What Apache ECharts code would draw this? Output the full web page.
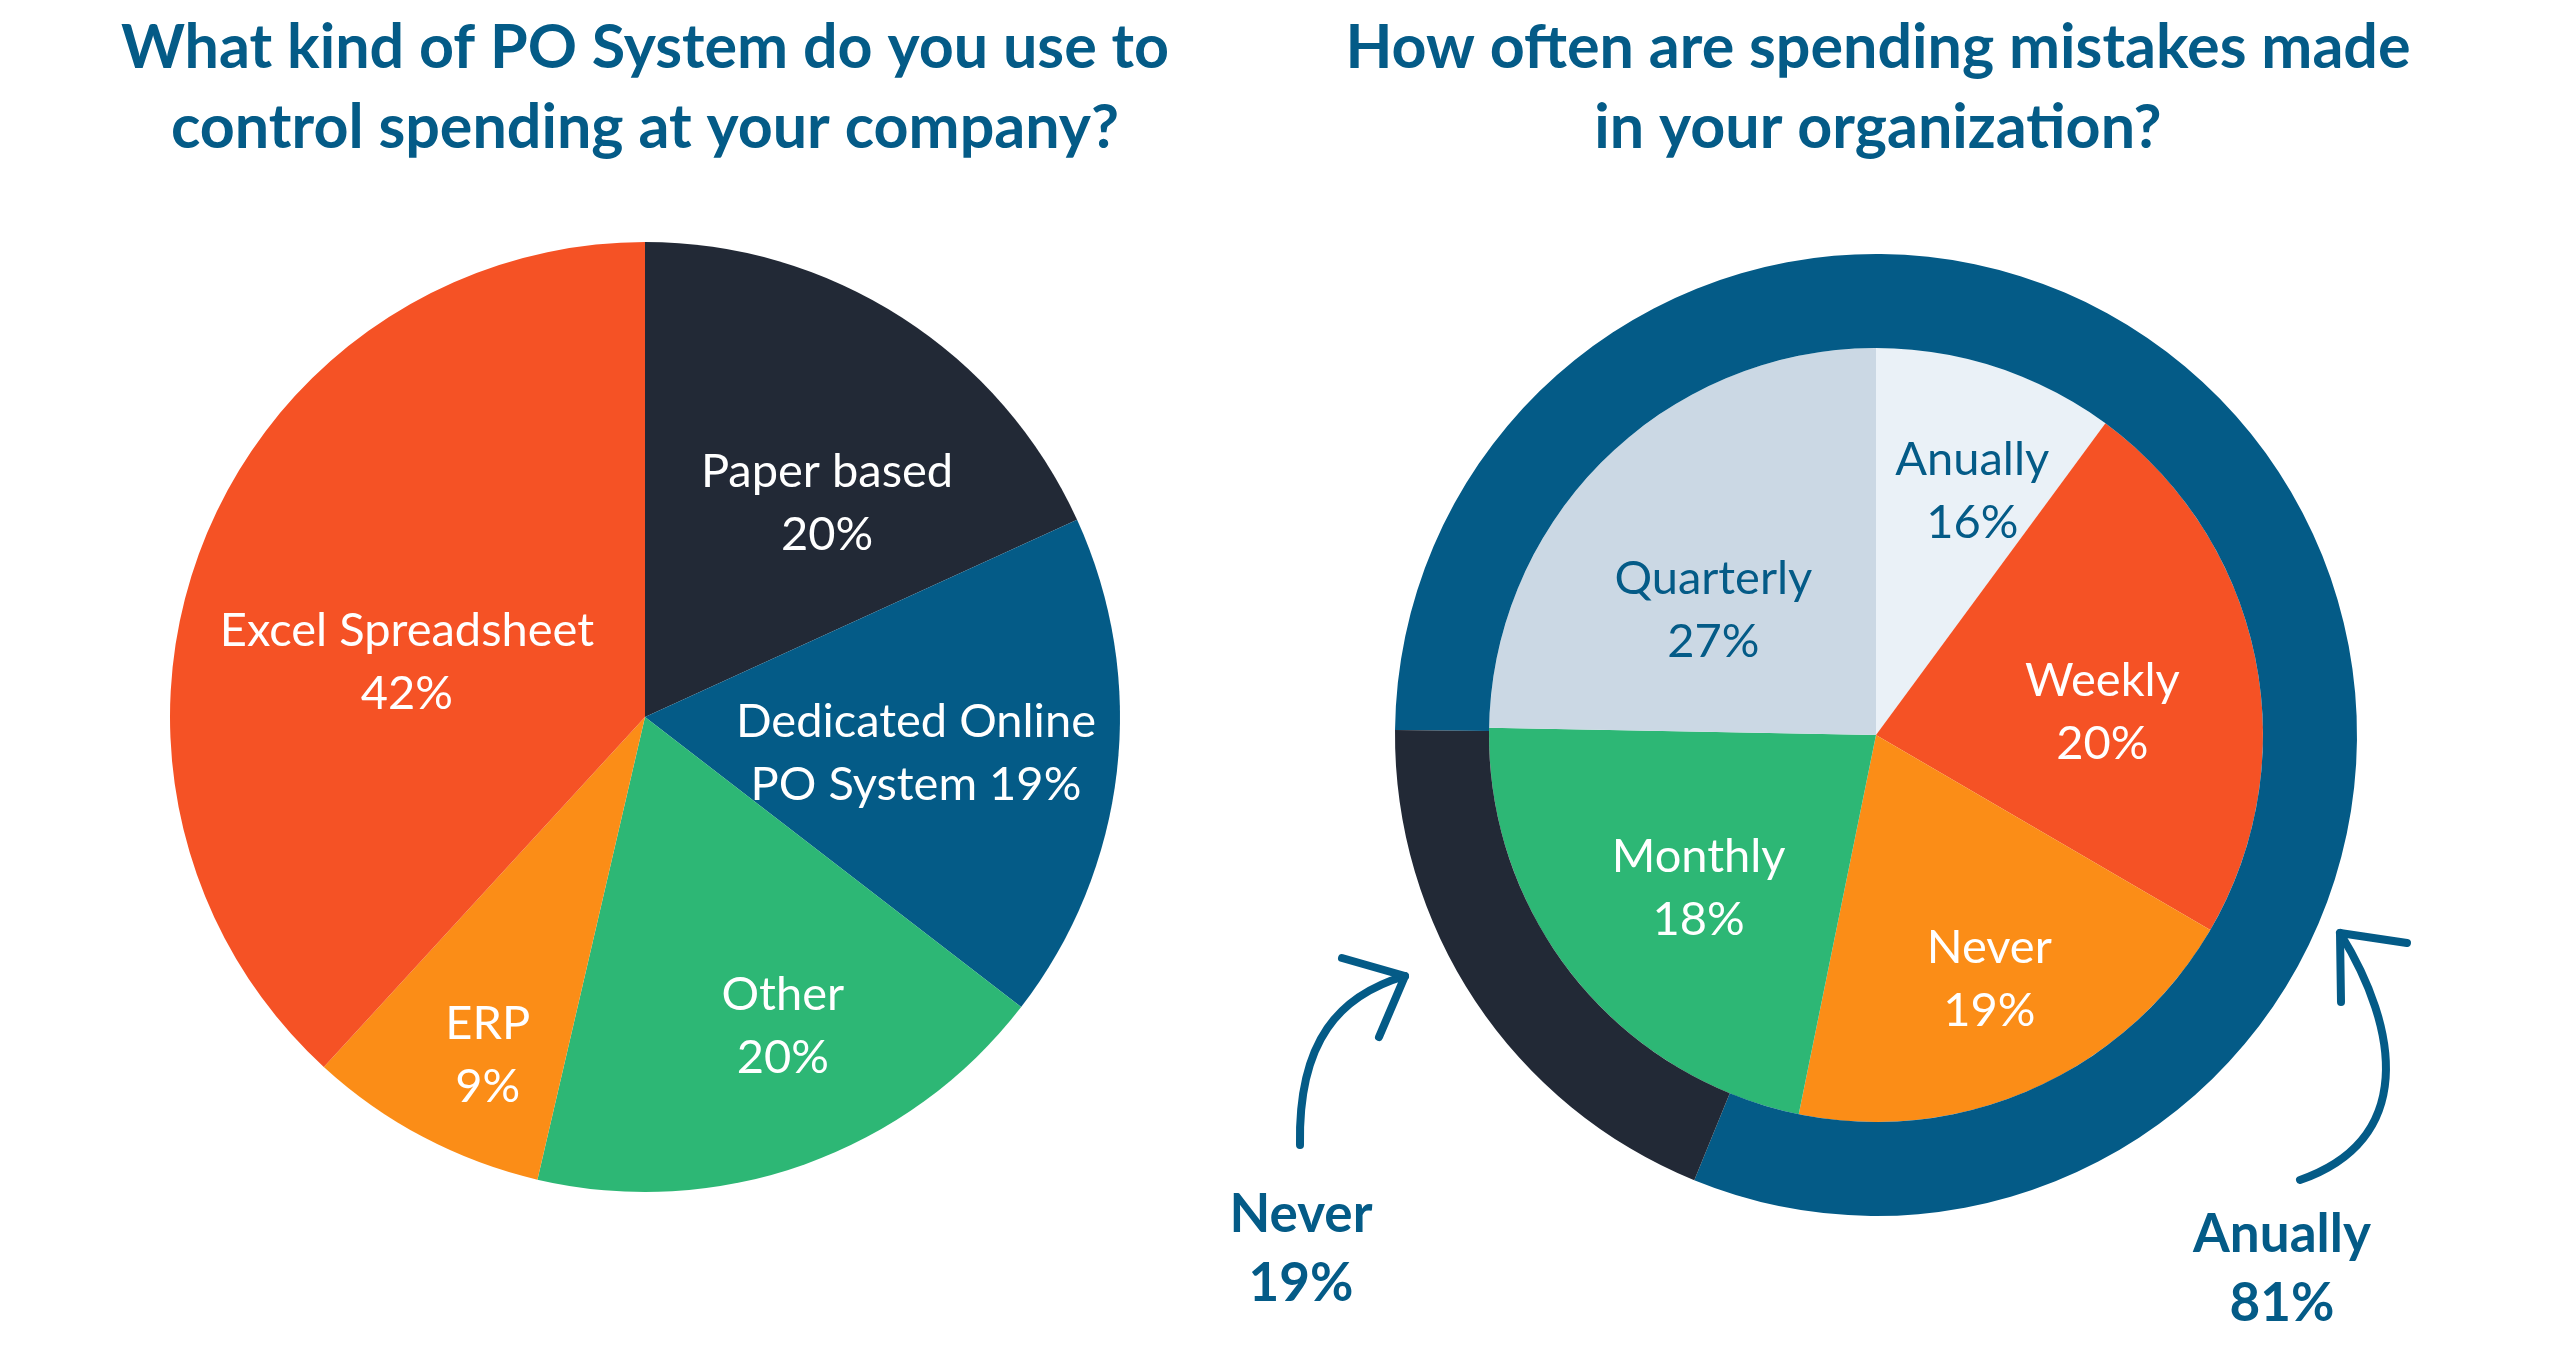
<!DOCTYPE html>
<html>
<head>
<meta charset="utf-8">
<script src="https://cdn.jsdelivr.net/npm/echarts@6/dist/echarts.min.js"></script>
<style>
html,body{margin:0;padding:0;background:#ffffff;}
#chart{width:2566px;height:1361px;}
</style>
</head>
<body>
<div id="chart"></div>
<script>
// ---------- data ----------
const leftTitle = 'What kind of PO System do you use to\ncontrol spending at your company?';
const rightTitle = 'How often are spending mistakes made\nin your organization?';

const systemNames = ['Paper based', 'Dedicated Online\nPO System', 'Other', 'ERP', 'Excel Spreadsheet'];
const systemValues = [20, 19, 20, 9, 42];

const frequencyNames = ['Anually', 'Weekly', 'Never', 'Monthly', 'Quarterly'];
const frequencyPct = [16, 20, 19, 18, 27];              // percentages printed on the slices
const frequencySweep = [10.1, 23.3, 19.8, 22.1, 24.7];   // slice sizes as drawn in the picture

const overallNames = ['Anually', 'Never'];
const overallValues = [81, 19];

// ---------- styling / layout (not data) ----------
const BLUE = '#045B87';
const NAVY = '#222936';
const systemColors = [NAVY, BLUE, '#2DB775', '#FB8D17', '#F55225'];
const frequencyColors = ['#EAF1F7', '#F55225', '#FB8D17', '#2DB775', '#CBD8E4'];
const frequencyText = [BLUE, '#ffffff', '#ffffff', '#ffffff', BLUE];
const overallColors = [BLUE, NAVY];

const systemLabelOffsets = [[52, -11], [32, 9], [57, 83], [-45, 126], [-14, 33]];
const frequencyLabelOffsets = [[35, -57], [34, 17], [33, 65], [-24, 30], [-25, 16]];
const overallLabelOffsets = [[42, 776], [-211, 273]];

const FONT = 'Lato';
const innerLabel = {
  show: true, position: 'inside', fontFamily: FONT, fontSize: 47, lineHeight: 63,
  color: '#ffffff', align: 'center', verticalAlign: 'middle'
};

const chart = echarts.init(document.getElementById('chart'), null, {renderer: 'canvas'});

const titleStyle = {fontFamily: FONT, fontWeight: 'bold', fontSize: 61, lineHeight: 80, color: BLUE};

chart.setOption({
  animation: false,
  backgroundColor: '#ffffff',
  title: [
    {text: leftTitle, left: 645, top: 8, textAlign: 'center', padding: 0, textStyle: titleStyle},
    {text: rightTitle, left: 1878, top: 8, textAlign: 'center', padding: 0, textStyle: titleStyle}
  ],
  series: [
    {
      type: 'pie',
      center: [645, 717],
      radius: [0, 475],
      startAngle: 90,
      clockwise: true,
      silent: true,
      label: Object.assign({}, innerLabel, {
        formatter: p => p.name + (p.name.indexOf('\n') >= 0 ? ' ' : '\n') + p.value + '%'
      }),
      labelLine: {show: false},
      data: systemNames.map((n, i) => ({
        name: n, value: systemValues[i],
        itemStyle: {color: systemColors[i]},
        label: {offset: systemLabelOffsets[i]}
      }))
    },
    {
      type: 'pie',
      center: [1876, 735],
      radius: [0, 387],
      startAngle: 90,
      clockwise: true,
      silent: true,
      label: Object.assign({}, innerLabel, {
        formatter: p => p.name + '\n' + frequencyPct[p.dataIndex] + '%'
      }),
      labelLine: {show: false},
      data: frequencyNames.map((n, i) => ({
        name: n, value: frequencySweep[i],
        itemStyle: {color: frequencyColors[i]},
        label: {offset: frequencyLabelOffsets[i], color: frequencyText[i]}
      }))
    },
    {
      type: 'pie',
      center: [1876, 735],
      radius: [387, 481],
      startAngle: 179.4,
      clockwise: true,
      silent: true,
      label: {
        show: true, position: 'inside', fontFamily: FONT, fontWeight: 'bold',
        fontSize: 53, lineHeight: 69, color: BLUE, align: 'center', verticalAlign: 'middle',
        formatter: p => p.name + '\n' + p.value + '%'
      },
      labelLine: {show: false},
      data: overallNames.map((n, i) => ({
        name: n, value: overallValues[i],
        itemStyle: {color: overallColors[i]},
        label: {offset: overallLabelOffsets[i]}
      }))
    }
  ],
  graphic: [
    {type: 'bezierCurve', silent: true,
      shape: {x1: 1300, y1: 1145, cpx1: 1298, cpy1: 1040, cpx2: 1340, cpy2: 995, x2: 1405, y2: 976},
      style: {stroke: BLUE, lineWidth: 8, lineCap: 'round', fill: null}},
    {type: 'polyline', silent: true,
      shape: {points: [[1342, 958], [1405, 976], [1379, 1037]]},
      style: {stroke: BLUE, lineWidth: 8, lineCap: 'round', lineJoin: 'round', fill: null}},
    {type: 'bezierCurve', silent: true,
      shape: {x1: 2300, y1: 1180, cpx1: 2415, cpy1: 1140, cpx2: 2400, cpy2: 1030, x2: 2340, y2: 933},
      style: {stroke: BLUE, lineWidth: 8, lineCap: 'round', fill: null}},
    {type: 'polyline', silent: true,
      shape: {points: [[2407, 943], [2340, 933], [2341, 1002]]},
      style: {stroke: BLUE, lineWidth: 8, lineCap: 'round', lineJoin: 'round', fill: null}}
  ]
});
</script>
</body>
</html>
